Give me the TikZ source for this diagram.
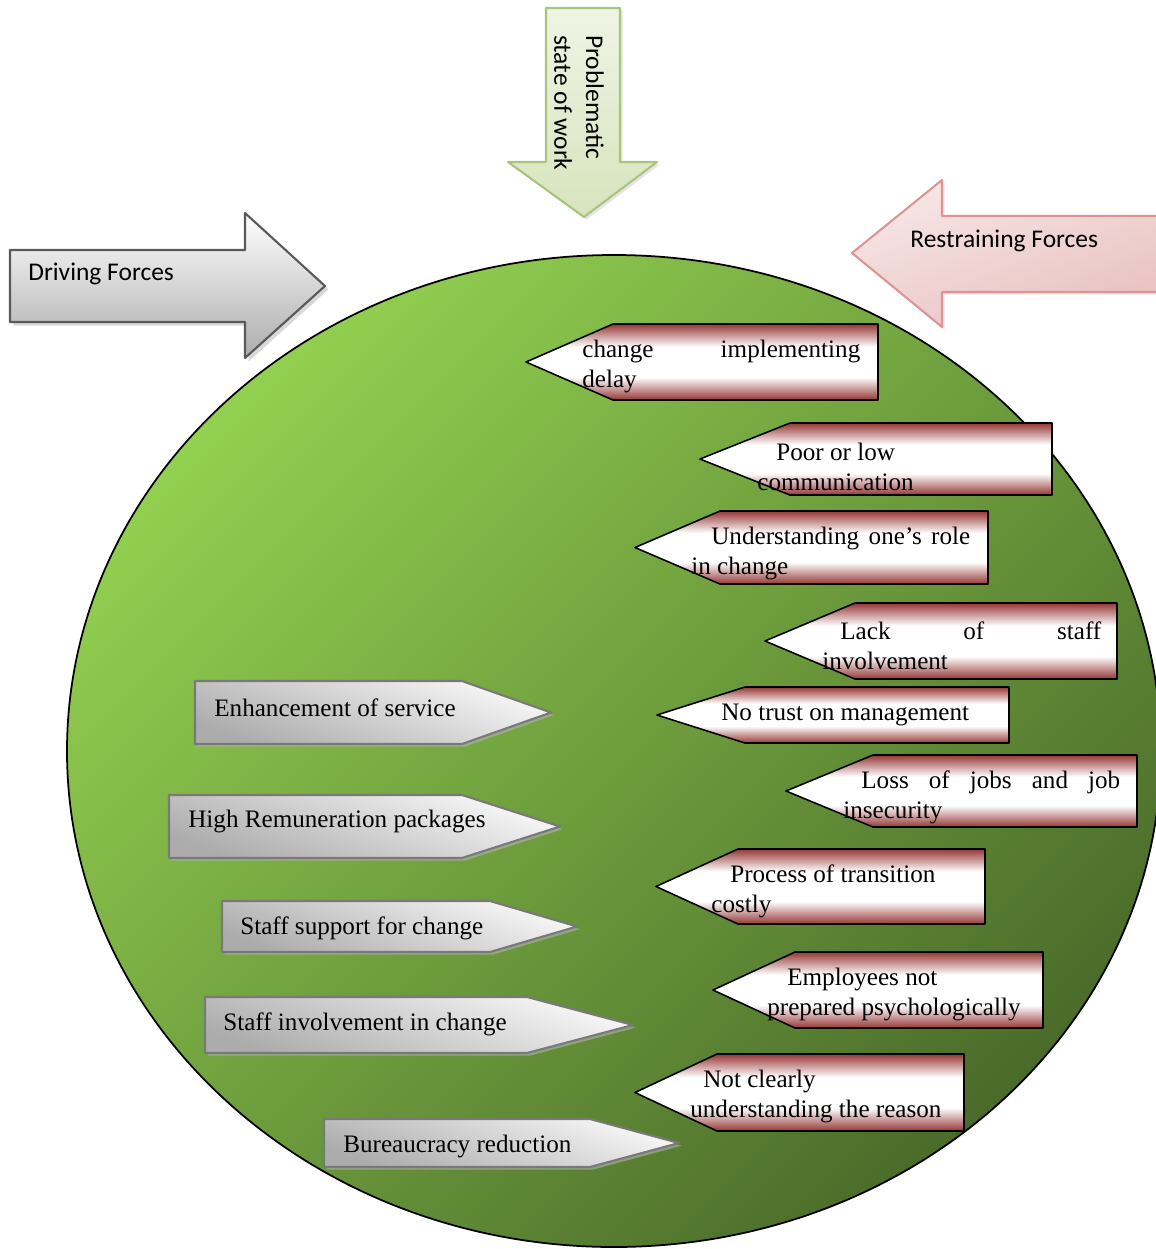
\documentclass[tikz,border=0pt]{standalone}
\usepackage{fontspec}
\setmainfont{Liberation Serif}
\newfontfamily\calibri{Carlito}
\usetikzlibrary{shadows}
\definecolor{leaf}{HTML}{92D050}
\definecolor{moss}{HTML}{4A6B2A}
\definecolor{wine}{HTML}{953735}
\definecolor{rose}{HTML}{E6B9B8}
\definecolor{roseline}{HTML}{D99694}
\definecolor{sage}{HTML}{D7E4BD}
\definecolor{sageline}{HTML}{A9C47F}
\pgfdeclareverticalshading{wineband}{100bp}{color(0bp)=(wine); color(25bp)=(wine); color(40bp)=(white); color(60bp)=(white); color(75bp)=(wine); color(100bp)=(wine)}
\newcommand\spreadline[2]{\makebox[#1][s]{#2}}
\tikzset{
  drive/.style={draw=gray!95!black,line width=1.2pt,top color=gray!5,bottom color=gray!65,shading angle=-20,
    drop shadow={shadow xshift=1.5pt,shadow yshift=-1.5pt,fill=gray!60,opacity=.6}},
  hold/.style={draw=black,line width=.9pt,shading=wineband},
  lbl/.style={inner sep=0pt,anchor=west,align=left,yshift=-1.5pt},
  big/.style={inner sep=0pt,anchor=west,yshift=-1pt,font=\calibri\fontsize{14.5}{18}\selectfont},
}
\begin{document}
\begin{tikzpicture}[x=0.02cm,y=-0.02cm,line join=round,font=\fontsize{14.3}{17}\selectfont]
	\useasboundingbox (0,0) rectangle (1156,1249);
	\clip (0,0) rectangle (1156,1249);
	% the field
	\path (614,751) coordinate (O);
	\draw[line width=1pt,top color=leaf,bottom color=moss,shading angle=45] (O) ellipse [x radius=547,y radius=496];
	% the three big arrows
	\draw[draw=gray!70!black,line width=1.2pt,top color=white,bottom color=gray!65,
	  drop shadow={shadow xshift=2pt,shadow yshift=-2pt,fill=gray!50,opacity=.6}]
	  (10,250) -- (245,250) -- (245,213) -- (325,286) -- (245,358) -- (245,322) -- (10,322) -- cycle;
	\node[big] (drv) at (28,272) {Driving Forces};
	\draw[draw=roseline,line width=1.2pt,top color=rose!35,bottom color=rose!90,shading angle=20,
	  drop shadow={shadow xshift=1.5pt,shadow yshift=-1.5pt,fill=gray!40,opacity=.5}]
	  (1170,216) -- (942,216) -- (942,180) -- (852,253) -- (942,327) -- (942,292) -- (1170,292) -- cycle;
	\node[big] (rst) at (910,239) {Restraining Forces};
	\draw[draw=sageline,line width=1.2pt,top color=sage!40,bottom color=sage,
	  drop shadow={shadow xshift=1.5pt,shadow yshift=-1.5pt,fill=gray!40,opacity=.5}]
	  (546,8) -- (620,8) -- (620,162) -- (657,162) -- (584,217) -- (508,162) -- (546,162) -- cycle;
	\node[big,anchor=center,align=left,rotate=-90,yshift=0pt] (prb) at (579,101) {Problematic\\state of work};
	% driving forces
	\foreach \n/\l/\b/\p/\t/\u/\x/\y/\s in {
	  g1/195/462/551/681/744/214/705/Enhancement of service,
	  g2/169/462/560/795/858/188/819/High Remuneration packages,
	  g3/222/490/577/901/952/240/926/Staff support for change,
	  g4/205/527/633/997/1053/223/1022/Staff involvement in change,
	  g5/324/590/679/1119/1167/343/1144/Bureaucracy reduction}
	{
	  \draw[drive] (\l,\t) -- (\b,\t) -- (\p,{(\t+\u)/2}) -- (\b,\u) -- (\l,\u) -- cycle;
	  \node[lbl] (\n) at (\x,\y) {\s};
	}
	% restraining forces
	\foreach \n/\a/\b/\c/\t/\u/\x/\y/\s in {
	  r1/526/613/878/324/400/582/364/{\spreadline{5.56cm}{change implementing}\\delay},
	  r2/700/790/1052/423/495/757/464/{\hspace*{.38cm}Poor or low\\communication},
	  r3/635/720/988/511/584/691/551/{\hspace*{.4cm}\spreadline{5.18cm}{Understanding one's role}\\in change},
	  r4/765/855/1117/603/679/822/643/{\hspace*{.36cm}\spreadline{5.22cm}{Lack of staff}\\involvement},
	  r5/657/745/1009/687/743/721/712/{No trust on management},
	  r6/786/873/1137/755/827/843/795/{\hspace*{.36cm}\spreadline{5.18cm}{Loss of jobs and job}\\insecurity},
	  r7/656/738/985/849/924/711/889/{\hspace*{.38cm}Process of transition\\costly},
	  r8/713/795/1043/952/1028/767/992/{\hspace*{.4cm}Employees not\\prepared psychologically},
	  r9/635/717/964/1054/1131/690/1094/{\hspace*{.26cm}Not clearly\\understanding the reason}}
	{
	  \draw[hold] (\a,{(\t+\u)/2}) -- (\b,\t) -- (\c,\t) -- (\c,\u) -- (\b,\u) -- cycle;
	  \node[lbl] (\n) at (\x,\y) {\s};
	}
\end{tikzpicture}
\end{document}
